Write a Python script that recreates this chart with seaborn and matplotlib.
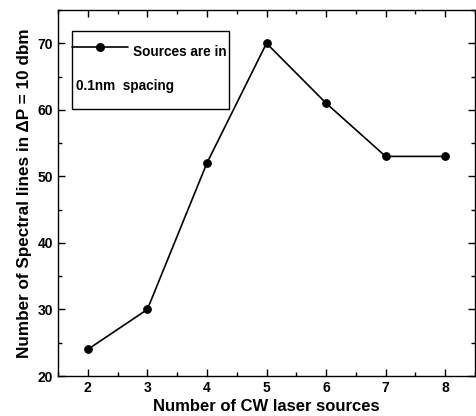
import matplotlib
matplotlib.use("Agg")
import matplotlib.pyplot as plt
import seaborn as sns
import pandas as pd
from matplotlib.lines import Line2D
from matplotlib.patches import Rectangle
from matplotlib.ticker import MultipleLocator

sources = [2, 3, 4, 5, 6, 7, 8]
lines_count = [24, 30, 52, 70, 61, 53, 53]
x_label = "Number of CW laser sources"
y_label = "Number of Spectral lines in \u0394P = 10 dbm"
legend_line1 = "Sources are in"
legend_line2 = "0.1nm  spacing"

sns.set_style("ticks")
plt.rcParams['font.family'] = ['Liberation Sans', 'DejaVu Sans']
plt.rcParams['font.weight'] = 'bold'
plt.rcParams['text.color'] = 'black'
plt.rcParams['axes.labelcolor'] = 'black'
plt.rcParams['xtick.color'] = 'black'
plt.rcParams['ytick.color'] = 'black'

df = pd.DataFrame({"x": sources, "y": lines_count})

fig = plt.figure(figsize=(4.76, 4.16), dpi=100)
ax = fig.add_axes([58/476, 40/416, (475-58)/476, (376-10)/416])

sns.lineplot(data=df, x="x", y="y", ax=ax, color="black", linewidth=1.2,
             marker="o", markersize=5.5, markeredgecolor="black", markerfacecolor="black")

ax.set_xlim(1.5, 8.5)
ax.set_ylim(20, 75)
ax.xaxis.set_major_locator(MultipleLocator(1))
ax.xaxis.set_minor_locator(MultipleLocator(0.5))
ax.yaxis.set_major_locator(MultipleLocator(10))
ax.yaxis.set_minor_locator(MultipleLocator(5))
ax.tick_params(which="both", direction="in", top=True, right=True, labelsize=10, width=1,
               colors="black", labelcolor="black")
ax.tick_params(which="major", length=5)
ax.tick_params(which="minor", length=3)
ax.set_yticks([20, 30, 40, 50, 60, 70])
for lab in ax.get_xticklabels() + ax.get_yticklabels():
    lab.set_fontweight("bold")
    lab.set_color("black")
for s in ax.spines.values():
    s.set_linewidth(1)
    s.set_color("black")

ax.set_xlabel(x_label, fontsize=12, fontweight="bold", labelpad=3, color="black")
ax.set_ylabel(y_label, fontsize=12.3, fontweight="bold", labelpad=4, color="black")

# legend box (axes coordinates)
W = 417.0; H = 366.0
def ax_xy(px, py):
    return ((px - 58) / W, (376 - py) / H)
x0, y0 = ax_xy(72, 109)
x1, y1 = ax_xy(229, 31)
ax.add_patch(Rectangle((x0, y0), x1 - x0, y1 - y0, transform=ax.transAxes,
                       fill=False, edgecolor="black", linewidth=1, zorder=5))
lx0, ly = ax_xy(72, 47)
lx1, _ = ax_xy(128, 47)
mx, _ = ax_xy(100, 47)
ax.add_line(Line2D([lx0, lx1], [ly, ly], transform=ax.transAxes, color="black", linewidth=1.2, zorder=6))
ax.add_line(Line2D([mx], [ly], transform=ax.transAxes, color="black", marker="o", markersize=5.5, zorder=6))
tx, ty = ax_xy(133, 52)
ax.text(tx, ty, legend_line1, transform=ax.transAxes, fontsize=9.8, fontweight="bold", va="center", ha="left", color="black")
tx2, ty2 = ax_xy(76, 86)
ax.text(tx2, ty2, legend_line2, transform=ax.transAxes, fontsize=9.8, fontweight="bold", va="center", ha="left", color="black")

fig.savefig("out.png", dpi=100)
